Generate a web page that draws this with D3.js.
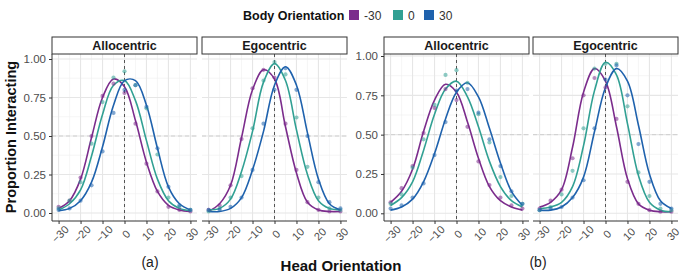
<!DOCTYPE html>
<html lang="en">
<head>
<meta charset="utf-8">
<title>Proportion Interacting by Head Orientation</title>
<script src="https://cdn.jsdelivr.net/npm/d3@7"></script>
<style>
  body { margin: 0; background: #fff; }
  text { font-family: "Liberation Sans", Arial, sans-serif; }
</style>
</head>
<body>
<script>
// data
var headAngles = [-30, -25, -20, -15, -10, -5, 0, 5, 10, 15, 20, 25, 30];
var bodyLevels = ["-30", "0", "30"];
var frameNames = ["Allocentric", "Egocentric"];
var xTicks = [-30, -20, -10, 0, 10, 20, 30];
var yTicks = [0, 0.25, 0.5, 0.75, 1];
var yTickLabels = ["0.00", "0.25", "0.50", "0.75", "1.00"];
var subLabels = ["(a)", "(b)"];

// fitted curves, one row per body orientation (-30, 0, 30)
var fitAlloA = [
  [0.03, 0.08, 0.22, 0.49, 0.75, 0.87, 0.82, 0.60, 0.33, 0.14, 0.05, 0.02, 0.01],
  [0.02, 0.06, 0.15, 0.37, 0.64, 0.83, 0.86, 0.73, 0.47, 0.22, 0.08, 0.03, 0.015],
  [0.015, 0.03, 0.08, 0.20, 0.43, 0.70, 0.86, 0.86, 0.70, 0.42, 0.17, 0.06, 0.02]
];
var fitEgoA = [
  [0.01, 0.06, 0.18, 0.49, 0.80, 0.93, 0.87, 0.56, 0.26, 0.07, 0.02, 0.01, 0.01],
  [0.02, 0.03, 0.09, 0.27, 0.53, 0.85, 0.97, 0.86, 0.54, 0.25, 0.08, 0.03, 0.02],
  [0.01, 0.01, 0.03, 0.10, 0.28, 0.53, 0.83, 0.95, 0.83, 0.52, 0.22, 0.06, 0.02]
];
var fitAlloB = [
  [0.07, 0.14, 0.28, 0.52, 0.72, 0.82, 0.77, 0.58, 0.35, 0.17, 0.08, 0.04, 0.02],
  [0.05, 0.10, 0.20, 0.40, 0.63, 0.79, 0.84, 0.74, 0.55, 0.33, 0.17, 0.08, 0.04],
  [0.02, 0.04, 0.09, 0.20, 0.38, 0.60, 0.77, 0.83, 0.74, 0.54, 0.32, 0.14, 0.05]
];
var fitEgoB = [
  [0.04, 0.07, 0.15, 0.42, 0.77, 0.92, 0.84, 0.55, 0.22, 0.06, 0.02, 0.01, 0.01],
  [0.03, 0.04, 0.07, 0.17, 0.43, 0.78, 0.96, 0.88, 0.57, 0.24, 0.07, 0.02, 0.01],
  [0.02, 0.02, 0.04, 0.10, 0.23, 0.52, 0.80, 0.92, 0.84, 0.56, 0.25, 0.08, 0.03]
];

// observed proportions
var obsAlloA = [
  [0.04, 0.08, 0.23, 0.50, 0.76, 0.84, 0.78, 0.58, 0.32, 0.14, 0.04, 0.02, 0.01],
  [0.03, 0.08, 0.20, 0.45, 0.72, 0.88, 0.92, 0.83, 0.68, 0.38, 0.10, 0.04, 0.02],
  [0.02, 0.03, 0.08, 0.18, 0.40, 0.65, 0.80, 0.83, 0.69, 0.42, 0.17, 0.05, 0.02]
];
var obsEgoA = [
  [0.02, 0.05, 0.18, 0.48, 0.81, 0.93, 0.88, 0.58, 0.28, 0.07, 0.02, 0.01, 0.01],
  [0.01, 0.03, 0.10, 0.24, 0.55, 0.86, 0.98, 0.90, 0.62, 0.30, 0.10, 0.03, 0.02],
  [0.02, 0.02, 0.04, 0.10, 0.28, 0.58, 0.80, 0.94, 0.80, 0.50, 0.20, 0.07, 0.03]
];
var obsAlloB = [
  [0.07, 0.16, 0.30, 0.51, 0.67, 0.79, 0.72, 0.55, 0.33, 0.18, 0.10, 0.05, 0.03],
  [0.06, 0.12, 0.29, 0.47, 0.69, 0.88, 0.91, 0.83, 0.63, 0.45, 0.23, 0.11, 0.06],
  [0.03, 0.05, 0.10, 0.19, 0.37, 0.58, 0.78, 0.79, 0.64, 0.47, 0.30, 0.14, 0.06]
];
var obsEgoB = [
  [0.03, 0.08, 0.15, 0.35, 0.75, 0.86, 0.80, 0.60, 0.20, 0.06, 0.02, 0.01, 0.01],
  [0.02, 0.04, 0.12, 0.27, 0.54, 0.92, 0.95, 0.95, 0.68, 0.26, 0.11, 0.03, 0.02],
  [0.02, 0.03, 0.04, 0.10, 0.21, 0.54, 0.85, 0.94, 0.75, 0.44, 0.20, 0.06, 0.03]
];

var colors = ["#7b2c8c", "#31a093", "#1f62ad"];

var w = 683;
var h = 275;
var panelTop = 54;
var panelBottom = 221;
var panelW = 145;

var groups = [
  { left: [52, 202], yRange: [213, 59], labelX: 150, fits: [fitAlloA, fitEgoA], obs: [obsAlloA, obsEgoA] },
  { left: [384, 533], yRange: [213.3, 56], labelX: 538, fits: [fitAlloB, fitEgoB], obs: [obsAlloB, obsEgoB] }
];

var svg = d3.select("body")
  .append("svg")
  .attr("width", w)
  .attr("height", h);

svg.append("rect").attr("width", w).attr("height", h).attr("fill", "#fff");

var xScale = d3.scaleLinear().domain([-33, 33]).range([0, panelW]);

groups.forEach(function(grp, gi) {
  var yScale = d3.scaleLinear().domain([0, 1]).range(grp.yRange);

  grp.left.forEach(function(px, pi) {
    var g = svg.append("g").attr("transform", "translate(" + px + ",0)");

    // grid
    d3.range(-25, 30, 10).forEach(function(v) {
      g.append("line").attr("x1", xScale(v)).attr("x2", xScale(v))
        .attr("y1", panelTop).attr("y2", panelBottom)
        .attr("stroke", "#f0f0f0").attr("stroke-width", 0.6);
    });
    [0.125, 0.375, 0.625, 0.875].forEach(function(v) {
      g.append("line").attr("x1", 0).attr("x2", panelW)
        .attr("y1", yScale(v)).attr("y2", yScale(v))
        .attr("stroke", "#f0f0f0").attr("stroke-width", 0.6);
    });
    xTicks.forEach(function(v) {
      g.append("line").attr("x1", xScale(v)).attr("x2", xScale(v))
        .attr("y1", panelTop).attr("y2", panelBottom)
        .attr("stroke", "#e6e6e6").attr("stroke-width", 1.1);
    });
    yTicks.forEach(function(v) {
      g.append("line").attr("x1", 0).attr("x2", panelW)
        .attr("y1", yScale(v)).attr("y2", yScale(v))
        .attr("stroke", "#e6e6e6").attr("stroke-width", 1.1);
    });

    // reference lines
    g.append("line").attr("x1", 0).attr("x2", panelW)
      .attr("y1", yScale(0.5)).attr("y2", yScale(0.5))
      .attr("stroke", "#d0d0d0").attr("stroke-width", 1)
      .attr("stroke-dasharray", "4,3");
    g.append("line").attr("x1", xScale(0)).attr("x2", xScale(0))
      .attr("y1", panelTop).attr("y2", panelBottom)
      .attr("stroke", "#555").attr("stroke-width", 1)
      .attr("stroke-dasharray", "3,3");

    // fitted curves
    var line = d3.line()
      .x(function(d, i) { return xScale(headAngles[i]); })
      .y(function(d) { return yScale(d); })
      .curve(d3.curveCatmullRom.alpha(0.5));

    grp.fits[pi].forEach(function(series, si) {
      g.append("path").datum(series)
        .attr("d", line)
        .attr("fill", "none")
        .attr("stroke", colors[si])
        .attr("stroke-width", 1.6);
    });

    // observed points
    grp.obs[pi].forEach(function(series, si) {
      g.selectAll(".pt" + si)
        .data(series)
        .enter()
        .append("circle")
        .attr("class", "pt" + si)
        .attr("cx", function(d, i) { return xScale(headAngles[i]); })
        .attr("cy", function(d) { return yScale(d); })
        .attr("r", 2.1)
        .attr("fill", colors[si])
        .attr("fill-opacity", 0.55);
    });

    // strip
    g.append("rect").attr("x", 0).attr("y", 37).attr("width", panelW).attr("height", 17)
      .attr("fill", "#ffffff").attr("stroke", "#333").attr("stroke-width", 1);
    g.append("text").attr("x", panelW / 2).attr("y", 50)
      .attr("text-anchor", "middle")
      .attr("font-size", 12.5).attr("font-weight", "bold").attr("fill", "#1a1a1a")
      .text(frameNames[pi]);

    // x axis
    var xAxis = d3.axisBottom(xScale).tickValues(xTicks).tickSize(3).tickFormat(d3.format("d"));
    var xa = g.append("g")
      .attr("transform", "translate(0," + panelBottom + ")")
      .call(xAxis);
    xa.select(".domain").attr("stroke", "#333").attr("d", "M0,0H" + panelW);
    xa.selectAll(".tick line").attr("stroke", "#333");
    xa.selectAll("text")
      .attr("y", 0).attr("dy", 0)
      .attr("transform", "translate(1,13) rotate(-45)")
      .attr("text-anchor", "middle")
      .attr("dominant-baseline", "central")
      .attr("font-size", 11)
      .attr("font-family", "\"Liberation Sans\", Arial, sans-serif")
      .attr("fill", "#4d4d4d");

    // y axis on the first panel of each group
    if (pi === 0) {
      var yAxis = d3.axisLeft(yScale).tickValues(yTicks).tickSize(3)
        .tickFormat(function(d, i) { return yTickLabels[i]; });
      var ya = g.append("g").call(yAxis);
      ya.select(".domain").attr("stroke", "#333").attr("d", "M0," + panelTop + "V" + panelBottom);
      ya.selectAll(".tick line").attr("stroke", "#333");
      ya.selectAll("text")
        .attr("font-size", 11.5)
        .attr("font-family", "\"Liberation Sans\", Arial, sans-serif")
        .attr("fill", "#4d4d4d");
    }
  });

  svg.append("text")
    .attr("x", grp.labelX).attr("y", 267)
    .attr("text-anchor", "middle")
    .attr("font-family", "\"Liberation Serif\", \"Times New Roman\", serif")
    .attr("font-size", 14)
    .attr("fill", "#222")
    .text(subLabels[gi]);
});

// axis titles
svg.append("text")
  .attr("transform", "translate(16,137) rotate(-90)")
  .attr("text-anchor", "middle")
  .attr("font-size", 14.5).attr("font-weight", "bold").attr("fill", "#111")
  .text("Proportion Interacting");

svg.append("text")
  .attr("x", 341).attr("y", 271)
  .attr("text-anchor", "middle")
  .attr("font-size", 15).attr("font-weight", "bold").attr("fill", "#111")
  .text("Head Orientation");

// legend
var legend = svg.append("g").attr("transform", "translate(0,15)");
legend.append("text").attr("x", 243).attr("y", 4.5)
  .attr("font-size", 12.5).attr("font-weight", "bold").attr("fill", "#111")
  .text("Body Orientation");
var legendX = [349, 393, 424];
bodyLevels.forEach(function(lv, i) {
  legend.append("rect").attr("x", legendX[i]).attr("y", -5).attr("width", 10).attr("height", 10)
    .attr("fill", colors[i]);
  legend.append("text").attr("x", legendX[i] + 15).attr("y", 4.5)
    .attr("font-size", 12).attr("fill", "#333")
    .text(lv);
});
</script>
</body>
</html>
